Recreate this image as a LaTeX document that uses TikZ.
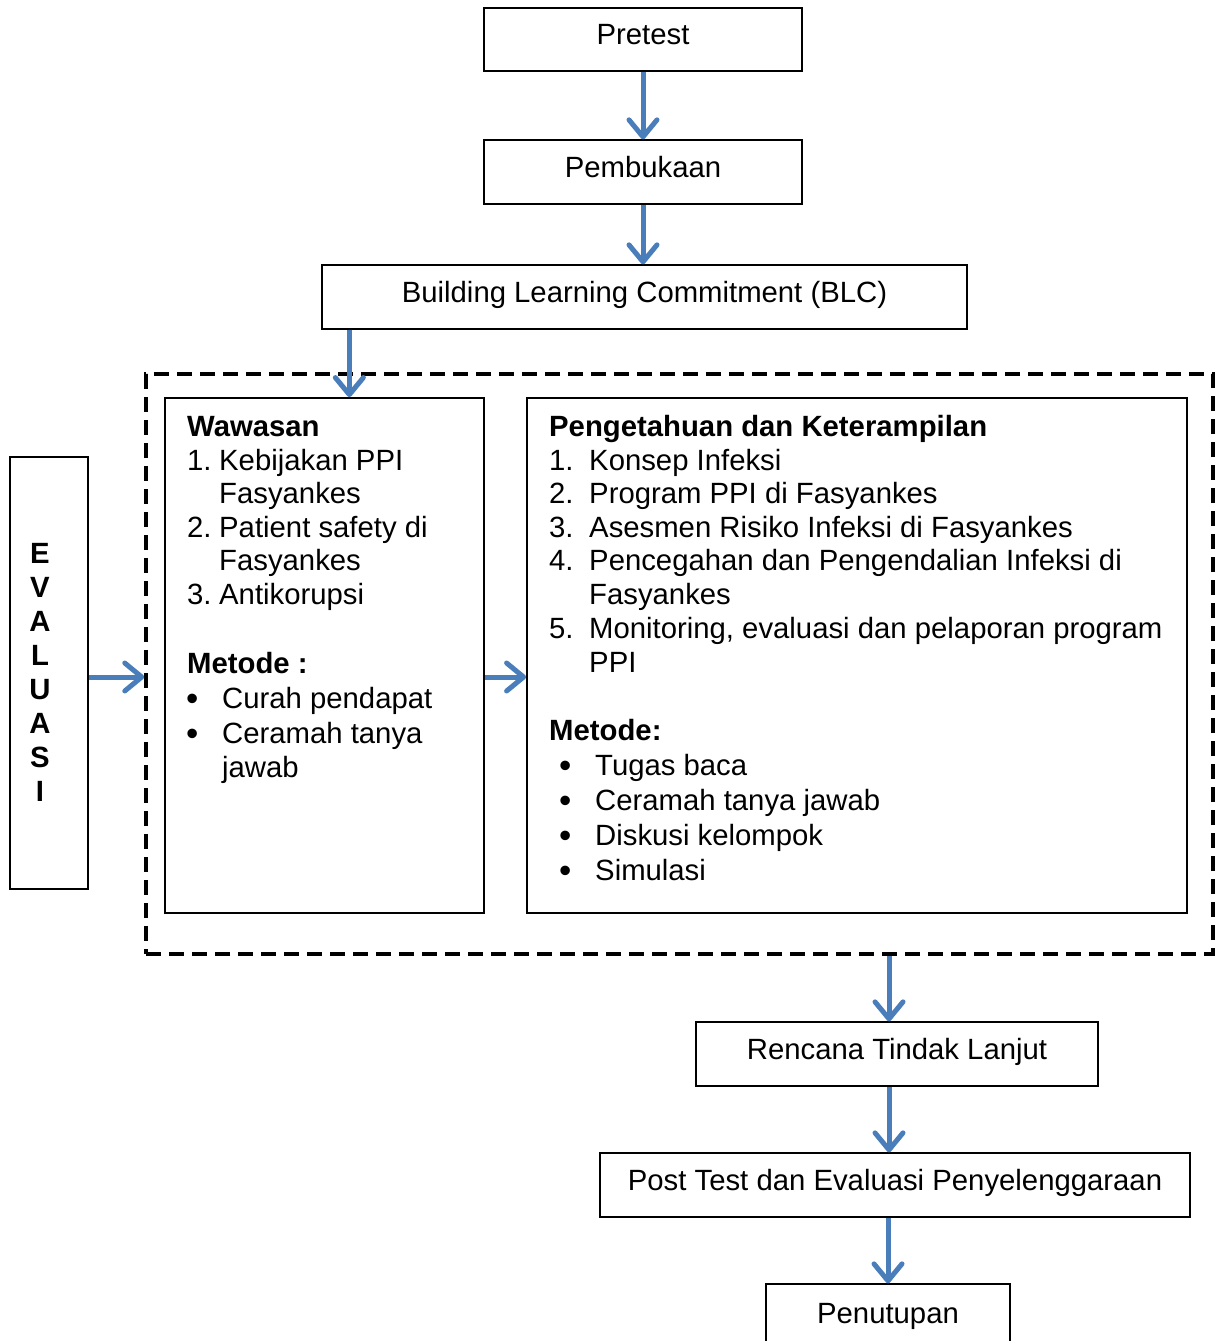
\documentclass[tikz,border=0pt]{standalone}
\usepackage{fontspec}
\setmainfont{Liberation Sans}
\usetikzlibrary{arrows.meta,calc}
\definecolor{arrblue}{HTML}{4A7EBB}
\begin{document}
\begin{tikzpicture}[x=1pt,y=-1pt,
  every node/.style={font=\fontsize{29.3}{34}\selectfont},
  box/.style={draw,line width=1.3pt,inner sep=0pt,text height=1em,text depth=0em},
  panel/.style={draw,line width=1.8pt,inner sep=0pt},
  txt/.style={anchor=base west,inner sep=0pt},
  bul/.style={anchor=base west,inner sep=0pt,font=\fontsize{35}{34}\selectfont},
  btxt/.style={anchor=base west,inner sep=0pt,font=\fontsize{29.3}{34}\selectfont\bfseries},
  arr/.style={draw=arrblue,line width=5pt,-{Straight Barb[length=17pt,width=28pt,round]}}]
\useasboundingbox (0,0) rectangle (1216,1341);
% boxes
\node[box,minimum width=318pt,minimum height=63pt] (pre) at (643,39.5) {Pretest};
\node[box,minimum width=318pt,minimum height=64pt] (pem) at (643,172) {Pembukaan};
\node[box,minimum width=645pt,minimum height=64pt] (blc) at (644.5,297) {Building Learning Commitment (BLC)};
\node[draw,dashed,dash pattern=on 15pt off 8pt,line width=3.5pt,minimum width=1067pt,minimum height=580pt,inner sep=0pt] (grp) at (679.5,664) {};
\node[panel,minimum width=319pt,minimum height=515pt] (waw) at (324.5,655.5) {};
\node[panel,minimum width=660pt,minimum height=515pt] (pen) at (857,655.5) {};
\node[draw,line width=1.3pt,minimum width=78pt,minimum height=432pt,inner sep=0pt] (eva) at (49,673) {};
\node[box,minimum width=402pt,minimum height=64pt] (rtl) at (897,1054) {Rencana Tindak Lanjut};
\node[box,minimum width=590pt,minimum height=64pt] (post) at (895,1185) {Post Test dan Evaluasi Penyelenggaraan};
\node[draw,line width=1.3pt,minimum width=244pt,minimum height=80pt,inner sep=0pt] (tut) at (888,1324) {};
\node[txt,anchor=base] (tutl) at (888,1323) {Penutupan};
% evaluasi letters
\foreach \l [count=\i from 0] in {E,V,A,L,U,A,S,I}
  \node[btxt,anchor=base] (e\i) at (40,563+34*\i) {\l};
% Wawasan text
\node[btxt] (w0) at (187,436) {Wawasan};
\node[txt] (w1n) at (187,470) {1.};
\node[txt] (w1) at (219,470) {Kebijakan PPI};
\node[txt] (w1b) at (219,503) {Fasyankes};
\node[txt] (w2n) at (187,537) {2.};
\node[txt] (w2) at (219,537) {Patient safety di};
\node[txt] (w2b) at (219,570) {Fasyankes};
\node[txt] (w3n) at (187,604) {3.};
\node[txt] (w3) at (219,604) {Antikorupsi};
\node[btxt] (wm) at (187,673) {Metode :};
\node[bul] (wb1) at (186,710) {•};
\node[txt] (wt1) at (222,708) {Curah pendapat};
\node[bul] (wb2) at (186,745) {•};
\node[txt] (wt2) at (222,743) {Ceramah tanya};
\node[txt] (wt2b) at (222,777) {jawab};
% Pengetahuan text
\node[btxt] (p0) at (549,436) {Pengetahuan dan Keterampilan};
\node[txt] (pn1) at (549,470) {1.};
\node[txt] (pt1) at (589,470) {Konsep Infeksi};
\node[txt] (pn2) at (549,503) {2.};
\node[txt] (pt2) at (589,503) {Program PPI di Fasyankes};
\node[txt] (pn3) at (549,537) {3.};
\node[txt] (pt3) at (589,537) {Asesmen Risiko Infeksi di Fasyankes};
\node[txt] (pn4) at (549,570) {4.};
\node[txt] (pt4) at (589,570) {Pencegahan dan Pengendalian Infeksi di};
\node[txt] (pt4b) at (589,604) {Fasyankes};
\node[txt] (pn5) at (549,638) {5.};
\node[txt] (pt5) at (589,638) {Monitoring, evaluasi dan pelaporan program};
\node[txt] (pt5b) at (589,672) {PPI};
\node[btxt] (pm) at (549,740) {Metode:};
\node[bul] (pb1) at (559,777) {•};
\node[txt] (pm1) at (595,775) {Tugas baca};
\node[bul] (pb2) at (559,812) {•};
\node[txt] (pm2) at (595,810) {Ceramah tanya jawab};
\node[bul] (pb3) at (559,847) {•};
\node[txt] (pm3) at (595,845) {Diskusi kelompok};
\node[bul] (pb4) at (559,882) {•};
\node[txt] (pm4) at (595,880) {Simulasi};
% arrows
\draw[arr] (pre.south) -- (pem.north);
\draw[arr] (pem.south) -- (pem.south |- blc.north);
\draw[arr] ([xshift=28pt]blc.south west) -- ([xshift=28pt]blc.south west |- waw.north);
\draw[arr] ([yshift=-4pt]eva.east) -- ([yshift=-4pt]eva.east -| grp.west);
\draw[arr] ([yshift=-21.5pt]waw.east) -- ([yshift=-21.5pt]pen.west);
\draw[arr] ([xshift=-8pt]rtl.north |- grp.south) -- ([xshift=-8pt]rtl.north);
\draw[arr] ([xshift=-8pt]rtl.south) -- ([xshift=-8pt]rtl.south |- post.north);
\draw[arr] (tut.north |- post.south) -- (tut.north);
\end{tikzpicture}
\end{document}
